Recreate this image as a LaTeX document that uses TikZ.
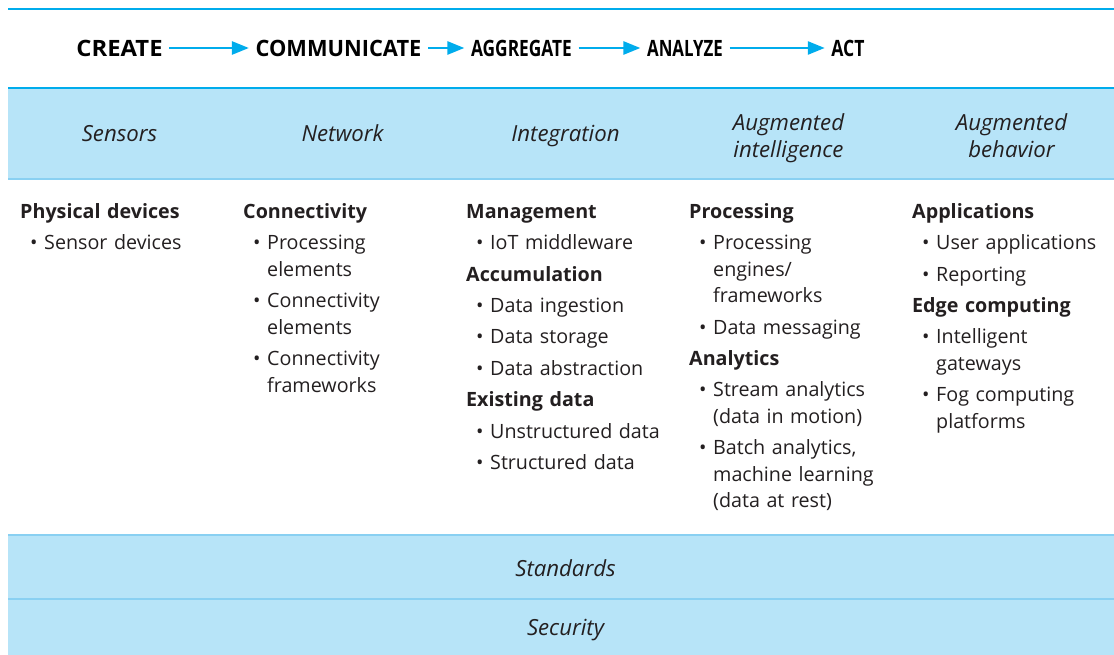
\documentclass[tikz,border=0pt]{standalone}
\usepackage{fontspec}
\usepackage{graphicx}
\setmainfont{Open Sans}
\usetikzlibrary{positioning,arrows.meta}
\definecolor{iotblue}{RGB}{0,172,236}
\definecolor{bandfill}{RGB}{183,228,248}
\definecolor{bandedge}{RGB}{137,208,242}
\definecolor{ink}{RGB}{35,31,32}
% column entries
\newcommand{\colhead}[1]{\par\noindent\textbf{#1}\par}
\newcommand{\colitem}[1]{\par\hangindent=24pt\hangafter=1\noindent\hspace*{10pt}\makebox[14pt][l]{\textbullet}#1\par}

\begin{document}
\begin{tikzpicture}[x=1pt,y=-1pt,
    stage/.style={font=\fontsize{22.5}{26}\selectfont\bfseries, text=black, inner xsep=6.5pt, inner ysep=0pt},
    flow/.style={draw=iotblue, line width=2.6pt, -{Triangle[length=17pt,width=13pt]}},
    layer/.style={font=\fontsize{22.2}{27}\selectfont\itshape, text=ink, align=center},
    column/.style={anchor=base west, inner sep=0pt, text width=205pt, text=ink,
        font=\fontsize{19.7}{26.5}\selectfont,
        execute at begin node={\raggedright\setlength{\parskip}{4.9pt}}}]
    \useasboundingbox (0,0) rectangle (1114,655);
    % bands
    \fill[bandfill] (8,88) rectangle (1114,180);
    \fill[bandfill] (8,534) rectangle (1114,655);
    \draw[iotblue, line width=2.5pt] (8,9) -- (1114,9);
    \draw[iotblue, line width=2.5pt] (8,88) -- (1114,88);
    \draw[bandedge, line width=2pt] (8,179) -- (1114,179);
    \draw[bandedge, line width=2pt] (8,535) -- (1114,535);
    \draw[bandedge, line width=2pt] (8,599) -- (1114,599);
    % stages
    \node[stage] (create) at (119.5,48) {\scalebox{1.06}[1]{CREATE}};
    \node[stage] (communicate) at (338.5,48) {\scalebox{0.97}[1]{COMMUNICATE}};
    \node[stage] (aggregate) at (521.5,48) {\scalebox{0.77}[1]{AGGREGATE}};
    \node[stage] (analyze) at (685,48) {\scalebox{0.75}[1]{ANALYZE}};
    \node[stage] (act) at (848,48) {\scalebox{0.78}[1]{ACT}};
    \draw[flow] (create) -- (communicate);
    \draw[flow] (communicate) -- (aggregate);
    \draw[flow] (aggregate) -- (analyze);
    \draw[flow] (analyze) -- (act);
    % layers
    \node[layer, anchor=base] (sensors) at (119.5,142) {Sensors};
    \node[layer, anchor=base] (network) at (342.5,142) {Network};
    \node[layer, anchor=base] (integration) at (565.5,142) {Integration};
    \node[layer] (intelligence) at (788.5,138) {Augmented\\intelligence};
    \node[layer] (behavior) at (1011.5,136) {Augmented\\behavior};
    \node[layer, anchor=base] (standards) at (565.5,576) {Standards};
    \node[layer, anchor=base] (security) at (565.5,635) {Security};
    % columns
    \node[column] (devices) at (20,187) {%
        \colhead{Physical devices}
        \colitem{Sensor devices}};
    \node[column] (connect) at (243,187) {%
        \colhead{Connectivity}
        \colitem{Processing\newline elements}
        \colitem{Connectivity\newline elements}
        \colitem{Connectivity\newline frameworks}};
    \node[column] (manage) at (466,187) {%
        \colhead{Management}
        \colitem{IoT middleware}
        \colhead{Accumulation}
        \colitem{Data ingestion}
        \colitem{Data storage}
        \colitem{Data abstraction}
        \colhead{Existing data}
        \colitem{Unstructured data}
        \colitem{Structured data}};
    \node[column] (process) at (689,187) {%
        \colhead{Processing}
        \colitem{Processing\newline engines/\newline frameworks}
        \colitem{Data messaging}
        \colhead{Analytics}
        \colitem{Stream analytics\newline (data in motion)}
        \colitem{Batch analytics,\newline machine learning\newline (data at rest)}};
    \node[column] (apps) at (912,187) {%
        \colhead{Applications}
        \colitem{User applications}
        \colitem{Reporting}
        \colhead{Edge computing}
        \colitem{Intelligent\newline gateways}
        \colitem{Fog computing\newline platforms}};
\end{tikzpicture}
\end{document}
